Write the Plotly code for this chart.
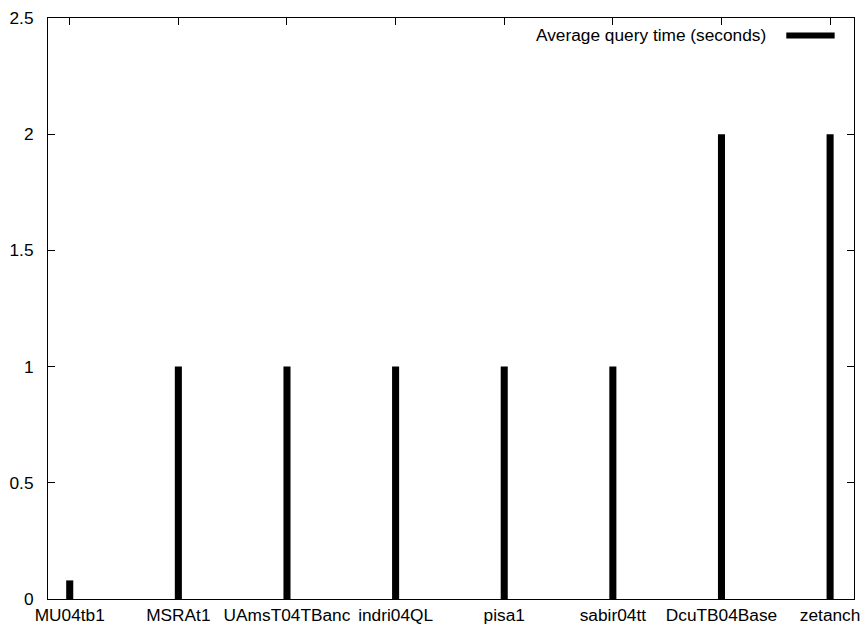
import plotly.graph_objects as go

categories = ["MU04tb1", "MSRAt1", "UAmsT04TBanc", "indri04QL", "pisa1", "sabir04tt", "DcuTB04Base", "zetanch"]
avg_query_time = [0.08, 1, 1, 1, 1, 1, 2, 2]
y_ticks = [0, 0.5, 1, 1.5, 2, 2.5]
y_tick_text = ["0", "0.5", "1", "1.5", "2", "2.5"]
series_name = "Average query time (seconds)"

x_pos = list(range(len(categories)))

fig = go.Figure()
fig.add_trace(go.Bar(
    x=x_pos, y=avg_query_time, width=0.065,
    marker=dict(color="black", line=dict(width=0)),
    name=series_name, showlegend=False, hoverinfo="skip",
))

font = dict(family="Liberation Sans, Arial, sans-serif", size=17.3, color="black")

fig.update_layout(
    width=865, height=628,
    margin=dict(l=48, r=11, t=18, b=28.5, autoexpand=False),
    paper_bgcolor="white", plot_bgcolor="white",
    font=font,
    xaxis=dict(
        range=[-0.2, 7.22], tickmode="array", tickvals=x_pos, ticktext=categories,
        ticks="inside", ticklen=7, tickcolor="black", tickwidth=1,
        showline=True, linecolor="black", linewidth=1, mirror="ticks",
        showgrid=False, zeroline=False, ticklabelstandoff=0, automargin=False,
    ),
    yaxis=dict(
        range=[0, 2.5], tickmode="array", tickvals=y_ticks, ticktext=y_tick_text,
        ticks="inside", ticklen=7, tickcolor="black", tickwidth=1,
        showline=True, linecolor="black", linewidth=1, mirror="ticks",
        showgrid=False, zeroline=False, ticklabelstandoff=10, automargin=False,
    ),
    annotations=[dict(
        text=series_name, xref="paper", yref="paper", x=0.893, y=0.970,
        xanchor="right", yanchor="middle", showarrow=False, font=font,
    )],
    shapes=[dict(
        type="line", xref="paper", yref="paper", x0=0.916, x1=0.976, y0=0.970, y1=0.970,
        line=dict(color="black", width=6),
    )],
)

fig.write_html(
    "out.html",
    config={"displayModeBar": False, "staticPlot": True},
    post_script="document.body.style.margin='0';document.body.style.overflow='hidden';",
)
